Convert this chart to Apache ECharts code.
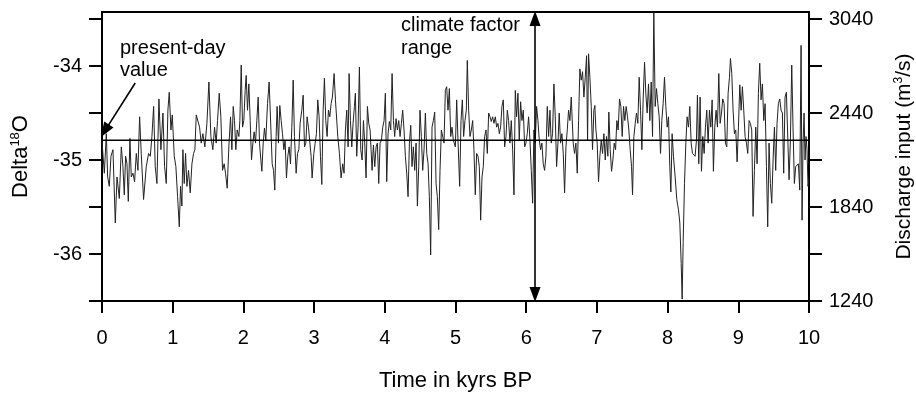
<!DOCTYPE html>
<html><head><meta charset="utf-8">
<script src="https://cdn.jsdelivr.net/npm/echarts@6/dist/echarts.min.js"></script>
<style>html,body{margin:0;padding:0;background:#fff}#c{width:916px;height:400px}</style>
</head><body><div id="c"></div>
<script>
const timeRange = [0, 10];
const deltaRange = [-36.5, -33.425];
const deltaTicks = [-36.5, -36, -35.5, -35, -34.5, -34, -33.5];
const deltaLabels = [-36, -35, -34];
const dischargeRange = [1240, 3085];
const dischargeTicks = [1240, 1540, 1840, 2140, 2440, 2740, 3040];
const dischargeLabels = [1240, 1840, 2440, 3040];
const presentDayValue = -34.79;
const presentDayArrow = [[0.47, -34.18], [0.04, -34.69]];
const climateFactorTime = 6.125;
const climateArrowEnds = [-33.494, -36.431];

// [time (kyrs BP), Delta18O]
const delta18O = [
[0.000,-34.80],[0.033,-35.14],[0.061,-34.72],[0.080,-35.18],[0.103,-35.28],[0.127,-34.96],[0.155,-34.89],[0.188,-35.67],[0.212,-35.18],[0.245,-35.41],[0.273,-34.86],[0.296,-35.07],[0.315,-35.37],[0.334,-34.96],[0.353,-35.04],[0.372,-35.44],[0.395,-34.77],[0.414,-35.18],[0.438,-35.14],[0.461,-35.23],[0.485,-34.93],[0.508,-35.11],[0.532,-34.54],[0.555,-34.93],[0.588,-35.42],[0.626,-35.07],[0.659,-34.93],[0.683,-34.96],[0.706,-34.75],[0.730,-34.43],[0.753,-35.07],[0.777,-35.25],[0.805,-34.35],[0.833,-34.89],[0.862,-34.50],[0.885,-35.07],[0.909,-35.25],[0.932,-34.47],[0.951,-34.28],[0.975,-34.68],[0.994,-34.52],[1.022,-34.96],[1.045,-35.07],[1.069,-35.39],[1.093,-35.71],[1.111,-35.28],[1.130,-35.49],[1.144,-34.89],[1.163,-35.25],[1.182,-34.93],[1.201,-35.28],[1.224,-35.11],[1.248,-35.35],[1.272,-35.04],[1.295,-34.93],[1.314,-34.89],[1.333,-34.52],[1.356,-34.54],[1.380,-34.65],[1.403,-34.82],[1.427,-34.72],[1.455,-34.86],[1.484,-34.61],[1.512,-34.17],[1.540,-34.75],[1.568,-34.89],[1.592,-34.65],[1.615,-34.82],[1.634,-34.58],
[1.658,-34.29],[1.681,-34.54],[1.705,-35.11],[1.728,-35.04],[1.747,-35.14],[1.771,-35.30],[1.794,-34.86],[1.818,-34.54],[1.837,-34.89],[1.856,-34.43],[1.874,-34.58],[1.893,-34.89],[1.912,-34.68],[1.936,-34.75],[1.950,-34.58],[1.969,-33.99],[1.988,-34.65],[2.006,-34.58],[2.025,-34.26],[2.039,-34.10],[2.058,-34.47],[2.077,-34.19],[2.096,-34.58],[2.115,-35.00],[2.134,-34.82],[2.152,-34.70],[2.171,-34.82],[2.190,-34.58],[2.209,-34.33],[2.228,-34.82],[2.247,-35.00],[2.261,-35.12],[2.280,-34.82],[2.298,-34.66],[2.317,-34.79],[2.341,-34.40],[2.364,-34.17],[2.388,-34.65],[2.407,-35.04],[2.426,-35.11],[2.444,-35.32],[2.463,-34.75],[2.477,-34.43],[2.496,-34.82],[2.515,-34.42],[2.534,-34.58],[2.553,-34.72],[2.572,-34.89],[2.590,-34.79],[2.609,-35.19],[2.628,-34.96],[2.647,-34.86],[2.666,-35.04],[2.685,-34.65],[2.704,-34.15],[2.722,-34.75],[2.746,-35.14],[2.765,-34.93],[2.784,-34.89],[2.802,-34.61],[2.826,-34.47],[2.845,-34.31],[2.864,-34.86],[2.883,-34.82],[2.901,-34.54],[2.920,-34.65],[2.939,-34.66],[2.958,-34.96],[2.972,-35.19],[2.996,-34.93],[3.015,-34.82],[3.033,-34.72],[3.052,-34.36],[3.071,-34.54],[3.090,-34.96],[3.109,-35.26],[3.128,-34.47],[3.146,-34.13],[3.165,-34.58],[3.184,-34.75],[3.203,-34.47],[3.222,-34.54],[3.241,-34.40],[3.259,-34.33],[3.283,-34.08],[3.302,-34.36],
[3.335,-34.75],[3.358,-34.93],[3.382,-35.19],[3.405,-35.04],[3.424,-35.14],[3.443,-34.68],[3.462,-34.47],[3.481,-34.86],[3.495,-34.08],[3.514,-34.58],[3.533,-34.86],[3.551,-34.61],[3.570,-34.43],[3.584,-34.29],[3.603,-34.96],[3.622,-34.65],[3.641,-34.01],[3.660,-34.89],[3.679,-35.00],[3.698,-34.58],[3.716,-34.82],[3.735,-35.19],[3.754,-34.43],[3.773,-34.61],[3.792,-34.68],[3.806,-34.89],[3.820,-35.11],[3.839,-34.84],[3.858,-35.07],[3.877,-34.86],[3.895,-34.82],[3.914,-35.25],[3.933,-34.82],[3.952,-34.79],[3.971,-34.65],[3.990,-34.58],[4.008,-34.29],[4.027,-35.23],[4.046,-34.72],[4.065,-34.59],[4.084,-34.68],[4.103,-34.08],[4.122,-34.58],[4.140,-34.75],[4.159,-34.56],[4.178,-34.68],[4.197,-34.58],[4.216,-34.75],[4.235,-34.61],[4.253,-34.47],[4.272,-34.68],[4.291,-34.96],[4.310,-35.14],[4.329,-35.39],[4.348,-34.82],[4.367,-34.63],[4.385,-35.07],[4.404,-34.86],[4.423,-35.11],[4.442,-34.82],[4.461,-35.49],[4.480,-35.07],[4.498,-34.47],[4.517,-34.75],[4.536,-35.11],[4.555,-34.89],[4.574,-34.50],[4.593,-34.93],[4.612,-35.04],[4.630,-35.39],[4.649,-36.01],[4.668,-34.65],[4.687,-34.58],[4.706,-34.49],[4.725,-35.25],[4.743,-35.39],[4.762,-35.74],[4.781,-35.11],[4.800,-34.68],[4.819,-34.68],[4.838,-34.82],[4.856,-34.26],[4.875,-34.22],[4.894,-34.47],[4.913,-34.24],[4.932,-34.75],[4.951,-34.65],[4.970,-34.79],
[4.998,-34.86],[5.017,-34.36],[5.035,-34.79],[5.059,-35.28],[5.078,-34.58],[5.097,-34.36],[5.115,-34.75],[5.134,-34.58],[5.153,-34.47],[5.167,-33.94],[5.186,-34.47],[5.205,-34.75],[5.224,-34.68],[5.243,-34.58],[5.261,-34.89],[5.280,-35.37],[5.299,-34.93],[5.318,-34.96],[5.337,-35.07],[5.356,-35.64],[5.375,-35.18],[5.393,-35.07],[5.412,-34.75],[5.431,-34.68],[5.450,-34.93],[5.469,-34.50],[5.488,-34.54],[5.506,-34.59],[5.525,-34.54],[5.544,-34.61],[5.563,-34.54],[5.582,-34.65],[5.601,-34.61],[5.620,-34.72],[5.638,-34.65],[5.657,-34.43],[5.676,-34.36],[5.695,-34.86],[5.714,-34.75],[5.733,-34.47],[5.751,-34.58],[5.770,-34.82],[5.789,-34.58],[5.808,-34.89],[5.827,-35.37],[5.846,-34.26],[5.864,-34.54],[5.883,-34.29],[5.902,-34.79],[5.921,-34.38],[5.940,-34.58],[5.959,-34.47],[5.978,-34.86],[5.996,-34.82],[6.015,-34.72],[6.034,-34.54],[6.053,-34.79],[6.072,-35.11],[6.091,-35.46],[6.109,-34.68],[6.128,-34.82],[6.147,-34.43],[6.166,-34.58],[6.185,-34.79],[6.204,-34.89],[6.222,-34.82],[6.241,-35.04],[6.260,-35.11],[6.279,-34.96],[6.298,-34.43],[6.317,-34.75],[6.336,-34.47],[6.354,-34.82],[6.373,-34.72],[6.392,-34.19],[6.411,-34.54],[6.430,-35.07],[6.449,-34.82],[6.467,-34.50],[6.486,-34.82],[6.505,-34.72],[6.524,-34.93],[6.543,-35.35],[6.562,-34.86],[6.581,-34.68],[6.599,-34.47],[6.618,-34.58],[6.637,-34.33],
[6.665,-34.82],[6.684,-34.93],[6.703,-34.82],[6.722,-35.14],[6.741,-34.58],[6.759,-34.03],[6.778,-34.15],[6.797,-34.06],[6.816,-34.33],[6.835,-34.12],[6.854,-33.89],[6.868,-34.79],[6.882,-33.87],[6.901,-34.12],[6.920,-34.43],[6.938,-34.89],[6.957,-34.47],[6.971,-34.42],[6.986,-34.68],[7.004,-34.82],[7.023,-35.23],[7.042,-34.96],[7.061,-34.79],[7.080,-34.93],[7.099,-34.72],[7.118,-35.00],[7.136,-34.75],[7.155,-34.96],[7.169,-34.49],[7.188,-34.89],[7.207,-35.12],[7.226,-35.00],[7.245,-34.82],[7.264,-34.89],[7.282,-34.58],[7.301,-34.68],[7.320,-34.35],[7.339,-34.43],[7.358,-34.75],[7.377,-34.43],[7.395,-34.58],[7.414,-34.43],[7.433,-34.54],[7.452,-34.68],[7.471,-34.89],[7.490,-35.07],[7.504,-35.37],[7.523,-34.75],[7.542,-34.61],[7.560,-34.50],[7.579,-34.61],[7.598,-34.12],[7.617,-34.47],[7.636,-34.89],[7.655,-34.33],[7.674,-33.96],[7.692,-34.29],[7.711,-34.50],[7.730,-34.19],[7.749,-34.58],[7.768,-34.17],[7.787,-34.75],[7.805,-33.43],[7.824,-34.43],[7.843,-34.24],[7.862,-34.40],[7.881,-34.54],[7.900,-34.93],[7.918,-34.58],[7.937,-34.40],[7.956,-34.12],[7.975,-34.43],[7.994,-34.65],[8.013,-34.54],[8.031,-35.07],[8.046,-35.34],[8.064,-34.72],[8.083,-34.96],[8.107,-35.18],[8.130,-35.42],[8.154,-35.53],[8.173,-35.67],[8.192,-36.10],[8.206,-36.48],[8.220,-35.88],[8.239,-35.25],[8.258,-34.82],[8.276,-34.54],[8.295,-34.65],[8.314,-34.43],
[8.333,-34.82],[8.352,-34.93],[8.371,-34.95],[8.389,-34.96],[8.408,-34.79],[8.422,-34.31],[8.441,-35.04],[8.460,-34.33],[8.479,-35.12],[8.498,-34.75],[8.517,-34.93],[8.535,-34.65],[8.554,-34.47],[8.573,-34.82],[8.592,-34.47],[8.611,-34.65],[8.630,-34.36],[8.648,-35.12],[8.667,-34.65],[8.686,-34.47],[8.705,-34.65],[8.724,-34.08],[8.743,-34.61],[8.762,-34.50],[8.780,-34.35],[8.799,-34.40],[8.818,-34.82],[8.837,-34.86],[8.856,-34.29],[8.875,-34.12],[8.889,-33.92],[8.908,-34.08],[8.926,-34.47],[8.945,-34.72],[8.964,-34.68],[8.983,-35.02],[9.002,-34.65],[9.021,-34.20],[9.040,-34.47],[9.058,-34.22],[9.077,-34.47],[9.096,-34.75],[9.115,-34.82],[9.134,-34.93],[9.153,-34.58],[9.171,-34.61],[9.190,-34.68],[9.209,-35.60],[9.228,-35.11],[9.247,-34.65],[9.266,-35.04],[9.284,-34.29],[9.303,-33.97],[9.322,-34.36],[9.341,-34.19],[9.360,-34.58],[9.379,-34.40],[9.398,-35.07],[9.416,-35.71],[9.435,-34.82],[9.454,-35.25],[9.473,-35.46],[9.492,-35.00],[9.511,-34.65],[9.529,-35.11],[9.548,-34.61],[9.567,-34.40],[9.586,-34.35],[9.605,-34.47],[9.624,-34.50],[9.642,-35.14],[9.661,-34.33],[9.680,-34.28],[9.699,-34.29],[9.718,-35.21],[9.737,-34.79],[9.756,-33.99],[9.774,-34.65],[9.793,-35.25],[9.812,-35.07],[9.831,-35.07],[9.850,-35.04],[9.869,-35.32],[9.888,-33.78],[9.902,-35.64],[9.916,-34.82],[9.930,-34.50],[9.944,-35.00],[9.958,-34.75],[9.972,-34.89],[9.986,-35.28],[10.000,-35.20]
];

const FONT = "'Liberation Sans', Arial, Helvetica, sans-serif";
const axisLineStyle = { color: '#000', width: 2 };
const plain = v => String(v);
const chart = echarts.init(document.getElementById('c'), null, { renderer: 'canvas' });
chart.setOption({
  animation: false,
  backgroundColor: '#fff',
  grid: { left: 102, right: 107, top: 12, bottom: 99, outerBoundsMode: 'none', containLabel: false, show: true, borderColor: '#000', borderWidth: 2, backgroundColor: 'transparent' },
  xAxis: {
    type: 'value', min: timeRange[0], max: timeRange[1], interval: 1,
    axisLine: { lineStyle: axisLineStyle },
    axisTick: { length: 12, lineStyle: axisLineStyle },
    axisLabel: { margin: 27, fontSize: 20, color: '#000', fontFamily: FONT, formatter: plain },
    splitLine: { show: false },
    name: 'Time in kyrs BP', nameLocation: 'middle', nameGap: 69,
    nameTextStyle: { fontSize: 22, color: '#000', fontFamily: FONT }
  },
  yAxis: [{
    type: 'value', position: 'left', min: deltaRange[0], max: deltaRange[1],
    axisLine: { show: true, lineStyle: axisLineStyle },
    axisTick: { show: true, length: 13, lineStyle: axisLineStyle, customValues: deltaTicks },
    axisLabel: { margin: 20, fontSize: 20, color: '#000', fontFamily: FONT, customValues: deltaLabels, formatter: plain },
    splitLine: { show: false },
    name: '{a|Delta}{s|18}{a|O}', nameLocation: 'middle', nameGap: 69, nameRotate: 90,
    nameTextStyle: { color: '#000', fontFamily: FONT, rich: {
      a: { fontSize: 22, fontFamily: FONT, color: '#000', lineHeight: 24 },
      s: { fontSize: 13, fontFamily: FONT, color: '#000', verticalAlign: 'top', lineHeight: 13 }
    } }
  }, {
    type: 'value', position: 'right', min: dischargeRange[0], max: dischargeRange[1],
    axisLine: { show: true, lineStyle: axisLineStyle },
    axisTick: { show: true, length: 13, lineStyle: axisLineStyle, customValues: dischargeTicks },
    axisLabel: { margin: 20, fontSize: 20, color: '#000', fontFamily: FONT, customValues: dischargeLabels, formatter: plain },
    splitLine: { show: false },
    name: '{a|Discharge input (m}{s|3}{a|/s)}', nameLocation: 'middle', nameGap: 84, nameRotate: 90,
    nameTextStyle: { color: '#000', fontFamily: FONT, rich: {
      a: { fontSize: 21, fontFamily: FONT, color: '#000', lineHeight: 23 },
      s: { fontSize: 12, fontFamily: FONT, color: '#000', verticalAlign: 'top', lineHeight: 12 }
    } }
  }],
  series: [{
    type: 'line', data: delta18O, yAxisIndex: 0, symbol: 'none', silent: true,
    lineStyle: { color: '#222', width: 1 }
  }, {
    type: 'line', yAxisIndex: 0, symbol: 'none', silent: true,
    data: [[timeRange[0], presentDayValue], [timeRange[1], presentDayValue]],
    lineStyle: { color: '#000', width: 1.6 },
    markLine: {
      silent: true, animation: false, symbolSize: [11, 15],
      lineStyle: { color: '#000', width: 1.6, type: 'solid' },
      label: { show: false },
      data: [
        [{ coord: presentDayArrow[0], symbol: 'none' }, { coord: presentDayArrow[1], symbol: 'triangle' }],
        [{ coord: [climateFactorTime, climateArrowEnds[0]], symbol: 'triangle' }, { coord: [climateFactorTime, climateArrowEnds[1]], symbol: 'triangle' }]
      ]
    }
  }],
  graphic: [
    { type: 'text', left: 120, top: 37, style: { text: 'present-day\nvalue', font: '20px ' + FONT, fill: '#000', lineHeight: 22 } },
    { type: 'text', left: 401, top: 14, style: { text: 'climate factor\nrange', font: '20px ' + FONT, fill: '#000', lineHeight: 23 } }
  ]
});
</script>
</body></html>
